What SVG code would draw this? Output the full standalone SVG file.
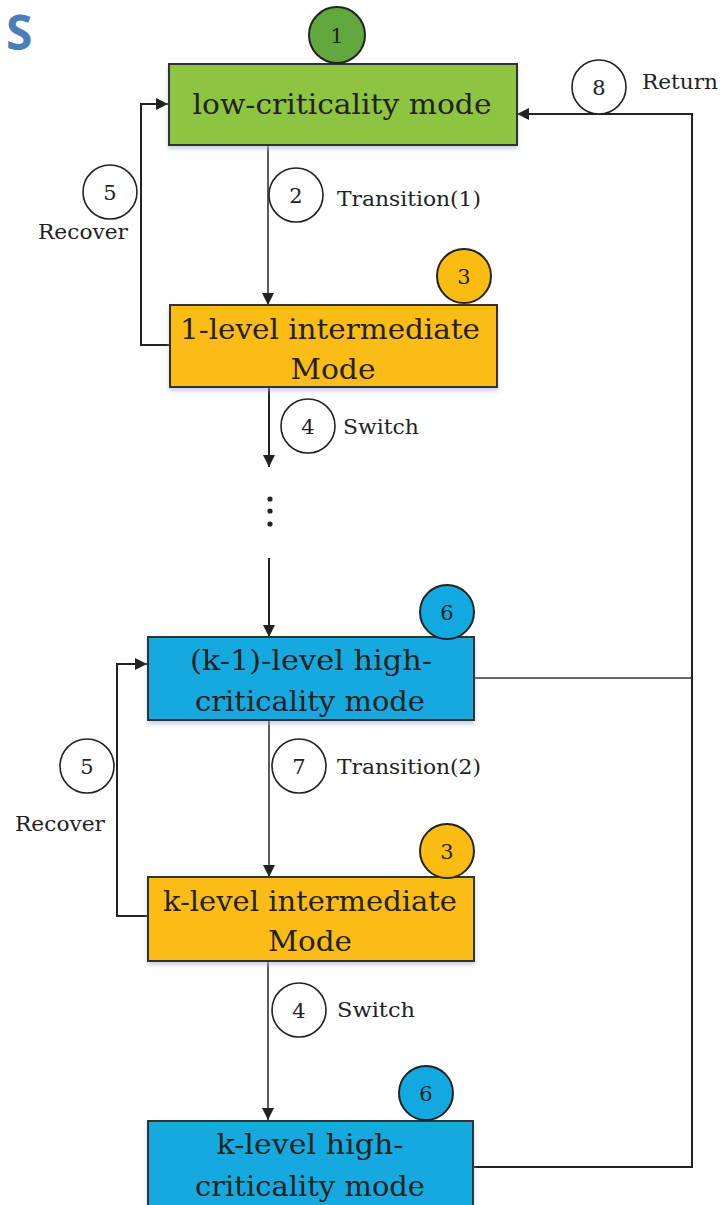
<svg xmlns="http://www.w3.org/2000/svg" width="724" height="1205" viewBox="0 0 724 1205">
  <defs>
    <marker id="arr" viewBox="0 0 10 10" refX="10" refY="5" markerWidth="12" markerHeight="12" markerUnits="userSpaceOnUse" orient="auto">
      <path d="M0,0 L10,5 L0,10 Z" fill="#222"/>
    </marker>
    <filter id="shadow" x="-5%" y="-5%" width="110%" height="120%">
      <feDropShadow dx="0" dy="3" stdDeviation="2" flood-color="#9fb6d8" flood-opacity="0.6"/>
    </filter>
  </defs>
  <style>
    .box { stroke: #333; stroke-width: 2; filter: url(#shadow); }
    .green { fill: #8dc540; }
    .orange { fill: #fbbc12; }
    .blue { fill: #12a9e0; }
    .badge { stroke: #222; stroke-width: 2; }
    .step { fill: #fff; stroke: #222; stroke-width: 1.6; }
    .serif { font-family: 'DejaVu Serif', 'Liberation Serif', serif; fill: #222; }
    .num { font-size: 21px; text-anchor: middle; }
    .label { font-size: 20px; }
    .title { font-size: 28px; text-anchor: middle; }
    .wire { fill: none; stroke: #222; stroke-width: 2; }
    .thin { fill: none; stroke: #333; stroke-width: 1.6; }
  </style>

  <rect width="724" height="1205" fill="#fff"/>

  <text x="6" y="50" font-family="'Open Sans', sans-serif" fill="#4a7ebb" font-weight="bold" font-size="48">S</text>

  <!-- connectors -->
  <g id="connectors">
    <line class="thin" x1="268" y1="145" x2="268" y2="305" marker-end="url(#arr)"/>
    <polyline class="wire" points="170,345 141,345 141,104 168,104" marker-end="url(#arr)"/>
    <line class="wire" x1="269" y1="387" x2="269" y2="467" marker-end="url(#arr)"/>
    <line class="wire" x1="269" y1="558" x2="269" y2="637" marker-end="url(#arr)"/>
    <polyline class="wire" points="148,916 117,916 117,664 147,664" marker-end="url(#arr)"/>
    <line class="thin" x1="269" y1="720" x2="269" y2="877" marker-end="url(#arr)"/>
    <line class="thin" x1="268" y1="961" x2="268" y2="1120" marker-end="url(#arr)"/>
    <line class="thin" x1="474" y1="678" x2="692" y2="678"/>
    <polyline class="wire" points="474,1167 692,1167 692,114 517,114" marker-end="url(#arr)"/>
    <!-- ellipsis between levels -->
    <circle cx="270" cy="499" r="2.6" fill="#222"/>
    <circle cx="270" cy="511" r="2.6" fill="#222"/>
    <circle cx="270" cy="524" r="2.6" fill="#222"/>
  </g>

  <!-- step markers on connectors -->
  <g id="step-2" class="serif">
    <circle class="step" cx="296" cy="195" r="27"/>
    <text class="num" x="296" y="203">2</text>
    <text class="label" x="337" y="206" textLength="144" lengthAdjust="spacingAndGlyphs">Transition(1)</text>
  </g>
  <g id="step-5a" class="serif">
    <circle class="step" cx="110" cy="192" r="27"/>
    <text class="num" x="110" y="200">5</text>
    <text class="label" x="38" y="239" textLength="90" lengthAdjust="spacingAndGlyphs">Recover</text>
  </g>
  <g id="step-8" class="serif">
    <circle class="step" cx="599" cy="87" r="27"/>
    <text class="num" x="599" y="95">8</text>
    <text class="label" x="642" y="89" textLength="76" lengthAdjust="spacingAndGlyphs">Return</text>
  </g>
  <g id="step-4a" class="serif">
    <circle class="step" cx="308" cy="426" r="27"/>
    <text class="num" x="308" y="434">4</text>
    <text class="label" x="343" y="434" textLength="76" lengthAdjust="spacingAndGlyphs">Switch</text>
  </g>
  <g id="step-5b" class="serif">
    <circle class="step" cx="87" cy="766" r="27"/>
    <text class="num" x="87" y="774">5</text>
    <text class="label" x="15" y="831" textLength="90" lengthAdjust="spacingAndGlyphs">Recover</text>
  </g>
  <g id="step-7" class="serif">
    <circle class="step" cx="299" cy="766" r="27"/>
    <text class="num" x="299" y="774">7</text>
    <text class="label" x="337" y="774" textLength="144" lengthAdjust="spacingAndGlyphs">Transition(2)</text>
  </g>
  <g id="step-4b" class="serif">
    <circle class="step" cx="299" cy="1010" r="27"/>
    <text class="num" x="299" y="1018">4</text>
    <text class="label" x="337" y="1017" textLength="78" lengthAdjust="spacingAndGlyphs">Switch</text>
  </g>

  <!-- mode nodes -->
  <g id="low-mode" class="serif">
    <rect class="box green" x="169" y="64" width="348" height="81"/>
    <circle class="badge" cx="337" cy="35" r="28" fill="#62a83f"/>
    <text class="num" x="337" y="43">1</text>
    <text class="title" x="342" y="114" textLength="299" lengthAdjust="spacingAndGlyphs">low-criticality mode</text>
  </g>

  <g id="level1-intermediate" class="serif">
    <rect class="box orange" x="170" y="305" width="327" height="82"/>
    <circle class="badge" cx="464" cy="276" r="27" fill="#fbbc12"/>
    <text class="num" x="464" y="284">3</text>
    <text class="title" x="330" y="339" textLength="300" lengthAdjust="spacingAndGlyphs">1-level intermediate</text>
    <text class="title" x="333" y="379" textLength="85" lengthAdjust="spacingAndGlyphs">Mode</text>
  </g>

  <g id="k1-high" class="serif">
    <rect class="box blue" x="148" y="637" width="326" height="83"/>
    <circle class="badge" cx="447" cy="612" r="27" fill="#12a9e0"/>
    <text class="num" x="447" y="620">6</text>
    <text class="title" x="311" y="670" textLength="242" lengthAdjust="spacingAndGlyphs">(k-1)-level high-</text>
    <text class="title" x="310" y="711" textLength="230" lengthAdjust="spacingAndGlyphs">criticality mode</text>
  </g>

  <g id="k-intermediate" class="serif">
    <rect class="box orange" x="148" y="877" width="326" height="84"/>
    <circle class="badge" cx="447" cy="851" r="27" fill="#fbbc12"/>
    <text class="num" x="447" y="859">3</text>
    <text class="title" x="310" y="911" textLength="294" lengthAdjust="spacingAndGlyphs">k-level intermediate</text>
    <text class="title" x="310" y="951" textLength="84" lengthAdjust="spacingAndGlyphs">Mode</text>
  </g>

  <g id="k-high" class="serif">
    <rect class="box blue" x="148" y="1121" width="325" height="86"/>
    <circle class="badge" cx="426" cy="1093" r="27" fill="#12a9e0"/>
    <text class="num" x="426" y="1101">6</text>
    <text class="title" x="310" y="1154" textLength="187" lengthAdjust="spacingAndGlyphs">k-level high-</text>
    <text class="title" x="310" y="1196" textLength="230" lengthAdjust="spacingAndGlyphs">criticality mode</text>
  </g>
</svg>
